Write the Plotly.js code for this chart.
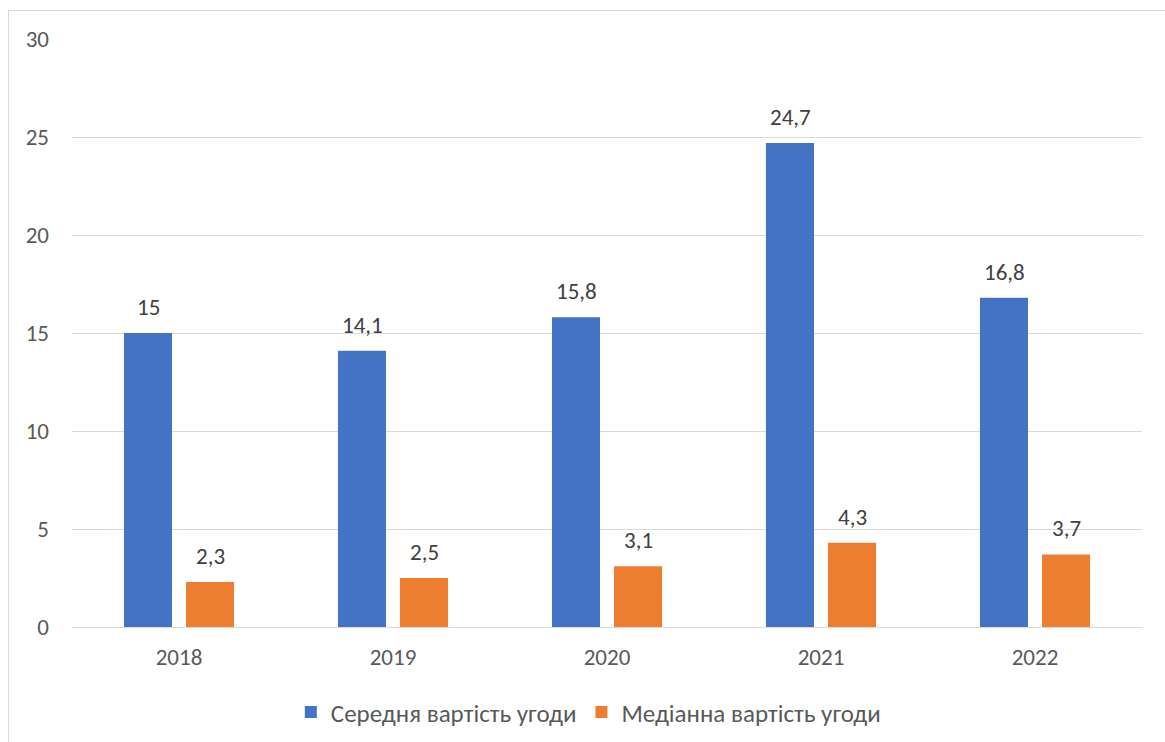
<!DOCTYPE html>
<html><head><meta charset="utf-8">
<script src="https://cdn.plot.ly/plotly-3.0.1.min.js"></script>
<style>
html,body{margin:0;padding:0;background:#fff;overflow:hidden}
#chart{width:1165px;height:742px}
#frame{position:absolute;left:8px;top:10px;width:1200px;height:800px;border:1px solid #d9d9d9;pointer-events:none;box-sizing:border-box}
</style></head>
<body>
<div id="chart"></div>
<div id="frame"></div>
<script>
const years = ['2018','2019','2020','2021','2022'];
const avgValues = [15, 14.1, 15.8, 24.7, 16.8];
const medValues = [2.3, 2.5, 3.1, 4.3, 3.7];
const seriesNames = ['Середня вартість угоди', 'Медіанна вартість угоди'];
const colors = ['#4472c4', '#ed7d31'];
const FONT = 'Carlito, Calibri, "Open Sans", "Noto Sans", sans-serif';

const fmt = v => String(v).replace('.', ',');

const traces = [
  {type:'bar', x:years, y:avgValues, name:seriesNames[0], marker:{color:colors[0]}, hoverinfo:'none'},
  {type:'bar', x:years, y:medValues, name:seriesNames[1], marker:{color:colors[1]}, hoverinfo:'none'}
];

const annotations = [];
[[avgValues,-31],[medValues,31]].forEach(([vals, dx]) => {
  vals.forEach((v, i) => annotations.push({
    x: i, y: v, xref:'x', yref:'y', text: fmt(v), showarrow:false,
    xshift: dx, yshift: 10, yanchor:'bottom',
    font:{family:FONT, size:23, color:'#404040'}
  }));
});

const layout = {
  width:1165, height:742,
  margin:{l:72, r:23, t:39, b:115},
  paper_bgcolor:'#fff', plot_bgcolor:'#fff',
  barmode:'group', bargap:0.42, bargroupgap:0.226,
  font:{family:FONT, size:23, color:'#595959'},
  xaxis:{type:'category', range:[-0.5,4.5], autorange:false, showgrid:false, showline:true, linecolor:'#d9d9d9', linewidth:1,
         ticks:'', tickfont:{family:FONT, size:23, color:'#595959'}, ticklabelstandoff:9},
  yaxis:{range:[0,30], autorange:false, dtick:5, showgrid:true, gridcolor:'#d9d9d9', gridwidth:1,
         zeroline:false, showline:false, ticks:'', tickfont:{family:FONT, size:23, color:'#595959'},
         ticklabelstandoff:22},
  showlegend:true,
  legend:{orientation:'h', xref:'container', yref:'container', x:0.505, xanchor:'center', y:0.04, yanchor:'middle',
          font:{family:FONT, size:25, color:'#595959'}, itemwidth:30, traceorder:'normal'},
  annotations: annotations
};

Plotly.newPlot('chart', traces, layout, {displayModeBar:false, staticPlot:true});
</script>
</body></html>
